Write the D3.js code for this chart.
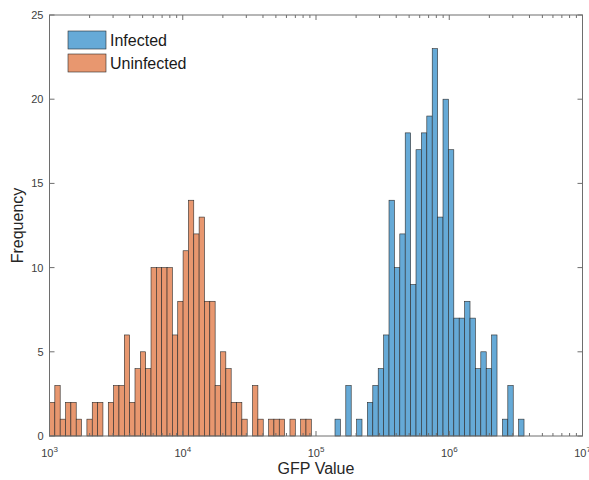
<!DOCTYPE html>
<html>
<head>
<meta charset="utf-8">
<script src="https://cdn.jsdelivr.net/npm/d3@7"></script>
<style>
  html, body { margin: 0; padding: 0; background: #fff; }
  svg { display: block; font-family: "Liberation Sans", Arial, Helvetica, sans-serif; }
</style>
</head>
<body>
<svg id="chart" width="589" height="480"></svg>
<script>
// ---- data ----
const seriesNames = ["Infected", "Uninfected"];
// log10 start of first bin and log10 bin width for each series
const infectedBinStart = 5.1426;
const infectedBinWidth = 0.04053;
const infectedCounts = [1,0,3,0,1,0,2,3,4,6,14,10,12,18,9,17,18,19,23,13,20,17,7,7,8,7,4,5,4,6,0,1,3,0,1];
const uninfectedBinStart = 3.0;
const uninfectedBinWidth = 0.0401;
const uninfectedCounts = [2,3,1,2,2,1,0,1,2,2,0,2,3,3,6,2,4,5,4,10,10,10,10,6,8,11,14,12,13,8,8,3,5,4,2,2,1,0,3,1,0,1,1,1,0,1,0,1,1];
const xTickExponents = [3, 4, 5, 6, 7];
const yTicks = [0, 5, 10, 15, 20, 25];
const xDomain = [1e3, 1e7];
const yDomain = [0, 25];

// ---- layout ----
const mLeft = 49.5, mRight = 582.5, mTop = 15, mBottom = 436;
const colors = { Infected: "#66aad7", Uninfected: "#e8976f" };
const axisColor = "#6e6e6e";
const textColor = "#404040";

const svg = d3.select("#chart");
const x = d3.scaleLog().domain(xDomain).range([mLeft, mRight]);
const y = d3.scaleLinear().domain(yDomain).range([mBottom, mTop]);

function makeBins(start, width, counts) {
  return counts.map((c, i) => ({
    x0: Math.pow(10, start + i * width),
    x1: Math.pow(10, start + (i + 1) * width),
    count: c
  }));
}
const data = [
  { name: "Infected", bins: makeBins(infectedBinStart, infectedBinWidth, infectedCounts) },
  { name: "Uninfected", bins: makeBins(uninfectedBinStart, uninfectedBinWidth, uninfectedCounts) }
];

// bars
data.forEach(s => {
  svg.append("g").selectAll("rect")
    .data(s.bins.filter(b => b.count > 0))
    .join("rect")
    .attr("x", d => x(d.x0))
    .attr("y", d => y(d.count))
    .attr("width", d => x(d.x1) - x(d.x0))
    .attr("height", d => y(0) - y(d.count))
    .attr("fill", colors[s.name])
    .attr("stroke", "#2b2b2b")
    .attr("stroke-width", 0.6);
});

// axes box
const g = svg.append("g");
g.append("rect")
  .attr("x", mLeft).attr("y", mTop)
  .attr("width", mRight - mLeft).attr("height", mBottom - mTop)
  .attr("fill", "none").attr("stroke", axisColor).attr("stroke-width", 1);

// x ticks (major + minor), bottom and top, inward
const majors = xTickExponents.map(e => Math.pow(10, e));
const minors = [];
for (let e = 3; e < 7; e++) for (let m = 2; m <= 9; m++) minors.push(m * Math.pow(10, e));
const tickG = g.append("g").attr("stroke", axisColor).attr("stroke-width", 1);
majors.forEach(v => {
  tickG.append("line").attr("x1", x(v)).attr("x2", x(v)).attr("y1", mBottom).attr("y2", mBottom - 5);
  tickG.append("line").attr("x1", x(v)).attr("x2", x(v)).attr("y1", mTop).attr("y2", mTop + 5);
});
minors.forEach(v => {
  tickG.append("line").attr("x1", x(v)).attr("x2", x(v)).attr("y1", mBottom).attr("y2", mBottom - 3);
  tickG.append("line").attr("x1", x(v)).attr("x2", x(v)).attr("y1", mTop).attr("y2", mTop + 3);
});
yTicks.forEach(v => {
  tickG.append("line").attr("x1", mLeft).attr("x2", mLeft + 5).attr("y1", y(v)).attr("y2", y(v));
  tickG.append("line").attr("x1", mRight).attr("x2", mRight - 5).attr("y1", y(v)).attr("y2", y(v));
});

// x tick labels with superscripts
xTickExponents.forEach(e => {
  const t = g.append("text")
    .attr("x", x(Math.pow(10, e)))
    .attr("y", mBottom + 21)
    .attr("text-anchor", "middle")
    .attr("fill", textColor)
    .attr("font-size", 11);
  t.append("tspan").text("10");
  t.append("tspan").attr("dy", -5).attr("font-size", 8).text(String(e));
});

// y tick labels
yTicks.forEach(v => {
  g.append("text")
    .attr("x", mLeft - 6)
    .attr("y", y(v) + 4)
    .attr("text-anchor", "end")
    .attr("fill", textColor)
    .attr("font-size", 11)
    .text(v);
});

// axis labels
g.append("text")
  .attr("x", (mLeft + mRight) / 2)
  .attr("y", 474)
  .attr("text-anchor", "middle")
  .attr("fill", "#262626")
  .attr("font-size", 16)
  .text("GFP Value");
g.append("text")
  .attr("transform", `translate(23,${(mTop + mBottom) / 2}) rotate(-90)`)
  .attr("text-anchor", "middle")
  .attr("fill", "#262626")
  .attr("font-size", 16)
  .text("Frequency");

// legend
const legend = g.append("g");
seriesNames.forEach((name, i) => {
  const ly = 31 + i * 23;
  legend.append("rect")
    .attr("x", 68).attr("y", ly)
    .attr("width", 38).attr("height", 18)
    .attr("fill", colors[name])
    .attr("stroke", "#2b2b2b").attr("stroke-width", 0.6);
  legend.append("text")
    .attr("x", 110).attr("y", ly + 15)
    .attr("fill", "#1a1a1a")
    .attr("font-size", 16)
    .text(name);
});
</script>
</body>
</html>
